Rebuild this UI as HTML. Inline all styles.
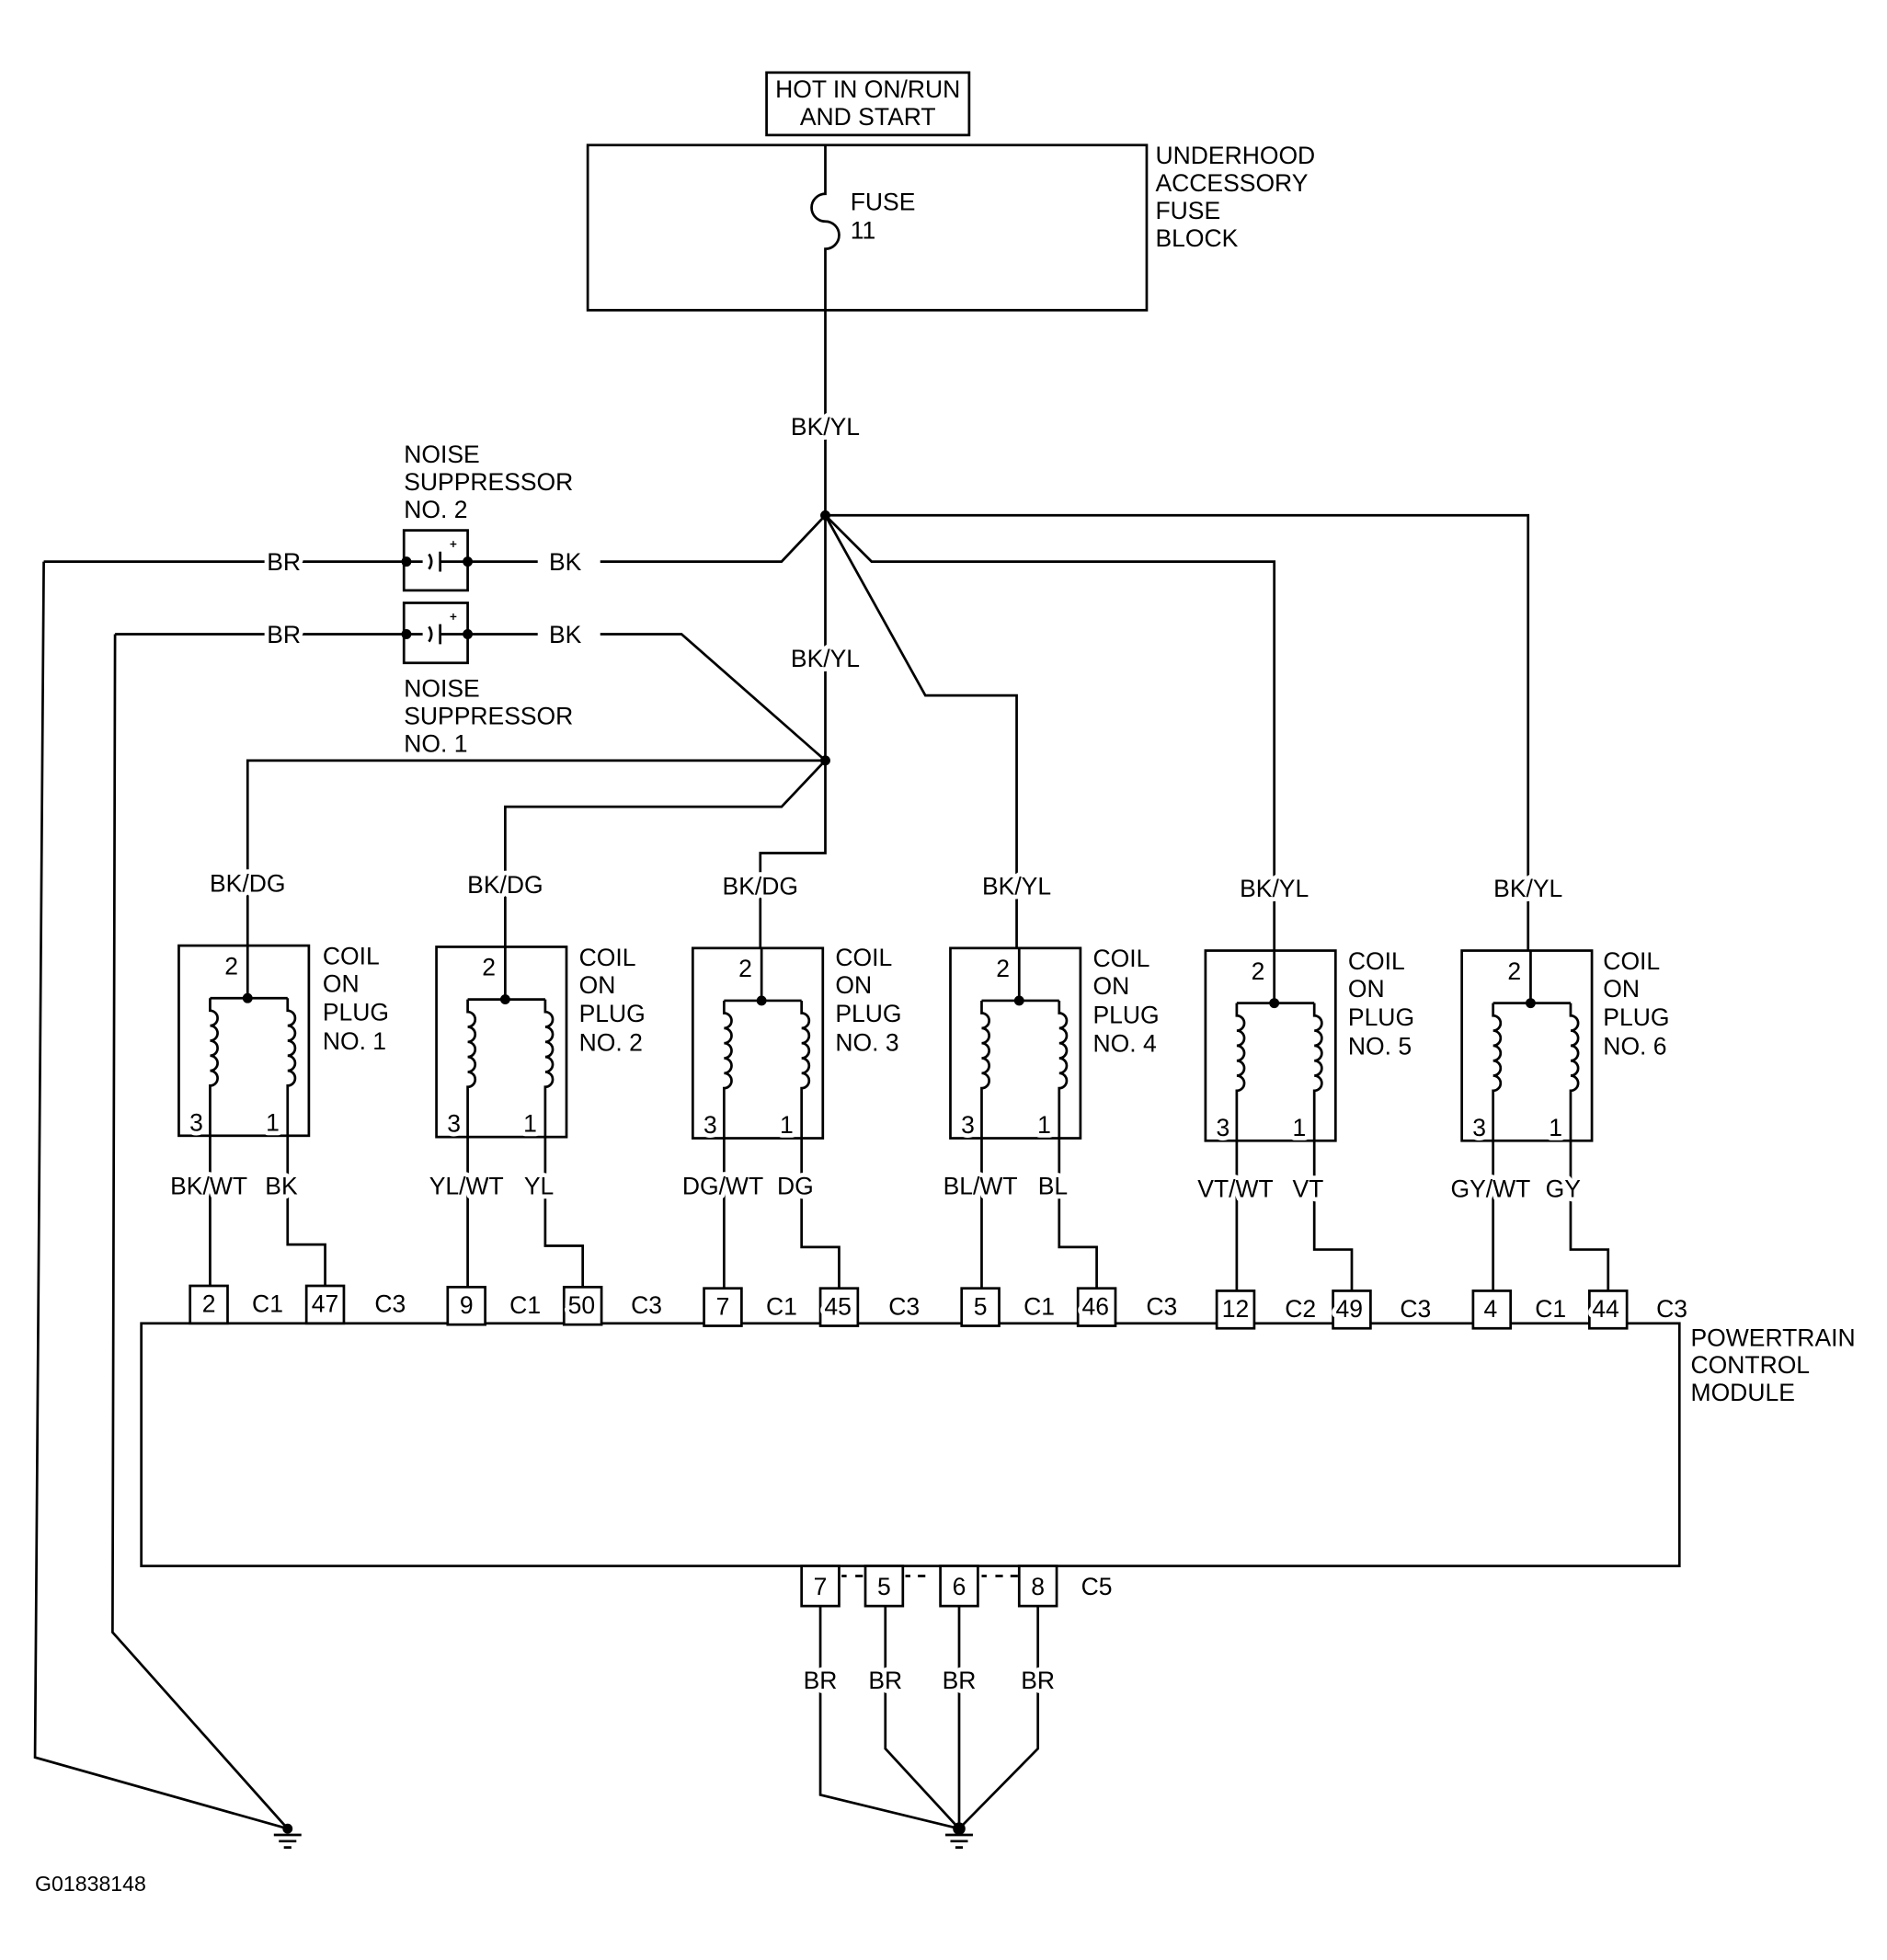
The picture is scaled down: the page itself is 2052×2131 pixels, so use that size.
<!DOCTYPE html>
<html><head><meta charset="utf-8"><style>
html,body{margin:0;padding:0;background:#fff}
svg{display:block}
text{font-family:"Liberation Sans",sans-serif;font-size:19.5px;fill:#000;stroke:#fff;stroke-width:7px;paint-order:stroke;stroke-linejoin:round}
</style></head><body>
<svg width="2052" height="2131" viewBox="0 0 1509 1567" preserveAspectRatio="none" xmlns="http://www.w3.org/2000/svg">
<defs>
<g id="coil" fill="none" stroke="#000" stroke-width="2">
<rect x="0" y="0" width="104" height="152"/>
<path d="M55,0V42M25,42H87M25,42V52a6,6 0 0 1 0,12a6,6 0 0 1 0,12a6,6 0 0 1 0,12a6,6 0 0 1 0,12a6,6 0 0 1 0,12V272"/>
<path d="M87,42V52a6,6 0 0 1 0,12a6,6 0 0 1 0,12a6,6 0 0 1 0,12a6,6 0 0 1 0,12a6,6 0 0 1 0,12V239H117V272"/>
<circle cx="55" cy="42" r="4" fill="#000" stroke="none"/>
<rect x="9" y="272" width="30" height="30" fill="#fff"/>
<rect x="102" y="272" width="30" height="30" fill="#fff"/>
</g>
</defs>
<g fill="none" stroke="#000" stroke-width="2">
<rect x="613" y="58" width="162" height="50"/>
<rect x="470" y="116" width="447" height="132"/>
<path d="M660,116V155a11,11 0 0 0 0,22a11,11 0 0 1 0,22V412"/>
<path d="M660,412H1222V760"/>
<path d="M660,412L625,449H480"/>
<path d="M660,412L697,449H1019V760"/>
<path d="M660,412L740,556H813V758"/>
<path d="M660,412V608"/>
<path d="M480,507H545L660,608"/>
<path d="M660,608H198V756"/>
<path d="M660,608L625,645H404V757"/>
<path d="M660,608V682H608V758"/>
<path d="M374,449H430M323,449H200M35,449H200"/>
<path d="M374,507H430M323,507H92"/>
<path d="M35,449L28,1405L230,1462M92,507L90,1305L230,1462"/>
<rect x="323" y="424" width="51" height="48"/>
<rect x="323" y="482" width="51" height="48"/>
<path d="M325,449H338M343,443q4,6 0,12M352,441V457M352,449H374"/>
<path d="M325,507H338M343,501q4,6 0,12M352,499V515M352,507H374"/>
<path d="M360,435h5M362.5,432.5v5M360,493h5M362.5,490.5v5" stroke-width="1"/>
<rect x="113" y="1058" width="1230" height="194"/>
<path d="M656,1284V1435L767,1462M708,1284V1398L767,1462M767,1284V1462M830,1284V1398L767,1462"/>
<rect x="641" y="1252" width="30" height="32" fill="#fff"/>
<rect x="692" y="1252" width="30" height="32" fill="#fff"/>
<rect x="752" y="1252" width="30" height="32" fill="#fff"/>
<rect x="815" y="1252" width="30" height="32" fill="#fff"/>
<path d="M673,1260h4M684,1260h6M724,1260h4M734,1260h6M785,1260h4M796,1260h6M808,1260h6"/>
<path d="M219,1467h22M223,1472h14M227,1477h6M756,1467h22M760,1472h14M764,1477h6"/>
</g>
<circle cx="325" cy="449" r="4"/><circle cx="374" cy="449" r="4"/>
<circle cx="325" cy="507" r="4"/><circle cx="374" cy="507" r="4"/>
<circle cx="660" cy="412" r="4"/><circle cx="660" cy="608" r="4"/>
<circle cx="230" cy="1462" r="4"/><circle cx="767" cy="1462" r="5"/>
<use href="#coil" x="143" y="756"/>
<use href="#coil" x="349" y="757"/>
<use href="#coil" x="554" y="758"/>
<use href="#coil" x="760" y="758"/>
<use href="#coil" x="964" y="760"/>
<use href="#coil" x="1169" y="760"/>

<g>
<text x="694" y="78" text-anchor="middle">HOT IN ON/RUN</text>
<text x="694" y="100" text-anchor="middle">AND START</text>
<text x="680" y="168">FUSE</text>
<text x="680" y="191">11</text>
<text x="924" y="131">UNDERHOOD</text>
<text x="924" y="153">ACCESSORY</text>
<text x="924" y="175">FUSE</text>
<text x="924" y="197">BLOCK</text>
<text x="660" y="348" text-anchor="middle">BK/YL</text>
<text x="660" y="533" text-anchor="middle">BK/YL</text>
<text x="323" y="370">NOISE</text>
<text x="323" y="392">SUPPRESSOR</text>
<text x="323" y="414">NO. 2</text>
<text x="323" y="557">NOISE</text>
<text x="323" y="579">SUPPRESSOR</text>
<text x="323" y="601">NO. 1</text>
<text x="227" y="456" text-anchor="middle">BR</text>
<text x="227" y="514" text-anchor="middle">BR</text>
<text x="452" y="456" text-anchor="middle">BK</text>
<text x="452" y="514" text-anchor="middle">BK</text>

<text x="198" y="713" text-anchor="middle">BK/DG</text>
<text x="404" y="714" text-anchor="middle">BK/DG</text>
<text x="608" y="715" text-anchor="middle">BK/DG</text>
<text x="813" y="715" text-anchor="middle">BK/YL</text>
<text x="1019" y="717" text-anchor="middle">BK/YL</text>
<text x="1222" y="717" text-anchor="middle">BK/YL</text>

<text x="185" y="779" text-anchor="middle">2</text><text x="157" y="904" text-anchor="middle">3</text><text x="218" y="904" text-anchor="middle">1</text>
<text x="391" y="780" text-anchor="middle">2</text><text x="363" y="905" text-anchor="middle">3</text><text x="424" y="905" text-anchor="middle">1</text>
<text x="596" y="781" text-anchor="middle">2</text><text x="568" y="906" text-anchor="middle">3</text><text x="629" y="906" text-anchor="middle">1</text>
<text x="802" y="781" text-anchor="middle">2</text><text x="774" y="906" text-anchor="middle">3</text><text x="835" y="906" text-anchor="middle">1</text>
<text x="1006" y="783" text-anchor="middle">2</text><text x="978" y="908" text-anchor="middle">3</text><text x="1039" y="908" text-anchor="middle">1</text>
<text x="1211" y="783" text-anchor="middle">2</text><text x="1183" y="908" text-anchor="middle">3</text><text x="1244" y="908" text-anchor="middle">1</text>

<text x="258" y="771">COIL</text><text x="258" y="793">ON</text><text x="258" y="816">PLUG</text><text x="258" y="839">NO. 1</text>
<text x="463" y="772">COIL</text><text x="463" y="794">ON</text><text x="463" y="817">PLUG</text><text x="463" y="840">NO. 2</text>
<text x="668" y="772">COIL</text><text x="668" y="794">ON</text><text x="668" y="817">PLUG</text><text x="668" y="840">NO. 3</text>
<text x="874" y="773">COIL</text><text x="874" y="795">ON</text><text x="874" y="818">PLUG</text><text x="874" y="841">NO. 4</text>
<text x="1078" y="775">COIL</text><text x="1078" y="797">ON</text><text x="1078" y="820">PLUG</text><text x="1078" y="843">NO. 5</text>
<text x="1282" y="775">COIL</text><text x="1282" y="797">ON</text><text x="1282" y="820">PLUG</text><text x="1282" y="843">NO. 6</text>

<text x="167" y="955" text-anchor="middle">BK/WT</text><text x="225" y="955" text-anchor="middle">BK</text>
<text x="373" y="955" text-anchor="middle">YL/WT</text><text x="431" y="955" text-anchor="middle">YL</text>
<text x="578" y="955" text-anchor="middle">DG/WT</text><text x="636" y="955" text-anchor="middle">DG</text>
<text x="784" y="955" text-anchor="middle">BL/WT</text><text x="842" y="955" text-anchor="middle">BL</text>
<text x="988" y="957" text-anchor="middle">VT/WT</text><text x="1046" y="957" text-anchor="middle">VT</text>
<text x="1192" y="957" text-anchor="middle">GY/WT</text><text x="1250" y="957" text-anchor="middle">GY</text>

<text x="167" y="1049" text-anchor="middle">2</text><text x="214" y="1049" text-anchor="middle">C1</text><text x="260" y="1049" text-anchor="middle">47</text><text x="312" y="1049" text-anchor="middle">C3</text>
<text x="373" y="1050" text-anchor="middle">9</text><text x="420" y="1050" text-anchor="middle">C1</text><text x="465" y="1050" text-anchor="middle">50</text><text x="517" y="1050" text-anchor="middle">C3</text>
<text x="578" y="1051" text-anchor="middle">7</text><text x="625" y="1051" text-anchor="middle">C1</text><text x="670" y="1051" text-anchor="middle">45</text><text x="723" y="1051" text-anchor="middle">C3</text>
<text x="784" y="1051" text-anchor="middle">5</text><text x="831" y="1051" text-anchor="middle">C1</text><text x="876" y="1051" text-anchor="middle">46</text><text x="929" y="1051" text-anchor="middle">C3</text>
<text x="988" y="1053" text-anchor="middle">12</text><text x="1040" y="1053" text-anchor="middle">C2</text><text x="1079" y="1053" text-anchor="middle">49</text><text x="1132" y="1053" text-anchor="middle">C3</text>
<text x="1192" y="1053" text-anchor="middle">4</text><text x="1240" y="1053" text-anchor="middle">C1</text><text x="1284" y="1053" text-anchor="middle">44</text><text x="1337" y="1053" text-anchor="middle">C3</text>

<text x="1352" y="1076">POWERTRAIN</text>
<text x="1352" y="1098">CONTROL</text>
<text x="1352" y="1120">MODULE</text>

<text x="656" y="1275" text-anchor="middle">7</text>
<text x="707" y="1275" text-anchor="middle">5</text>
<text x="767" y="1275" text-anchor="middle">6</text>
<text x="830" y="1275" text-anchor="middle">8</text>
<text x="877" y="1275" text-anchor="middle">C5</text>
<text x="656" y="1350" text-anchor="middle">BR</text>
<text x="708" y="1350" text-anchor="middle">BR</text>
<text x="767" y="1350" text-anchor="middle">BR</text>
<text x="830" y="1350" text-anchor="middle">BR</text>
<text x="28" y="1512" style="font-size:17px">G01838148</text>
</g>
</svg>
</body></html>
